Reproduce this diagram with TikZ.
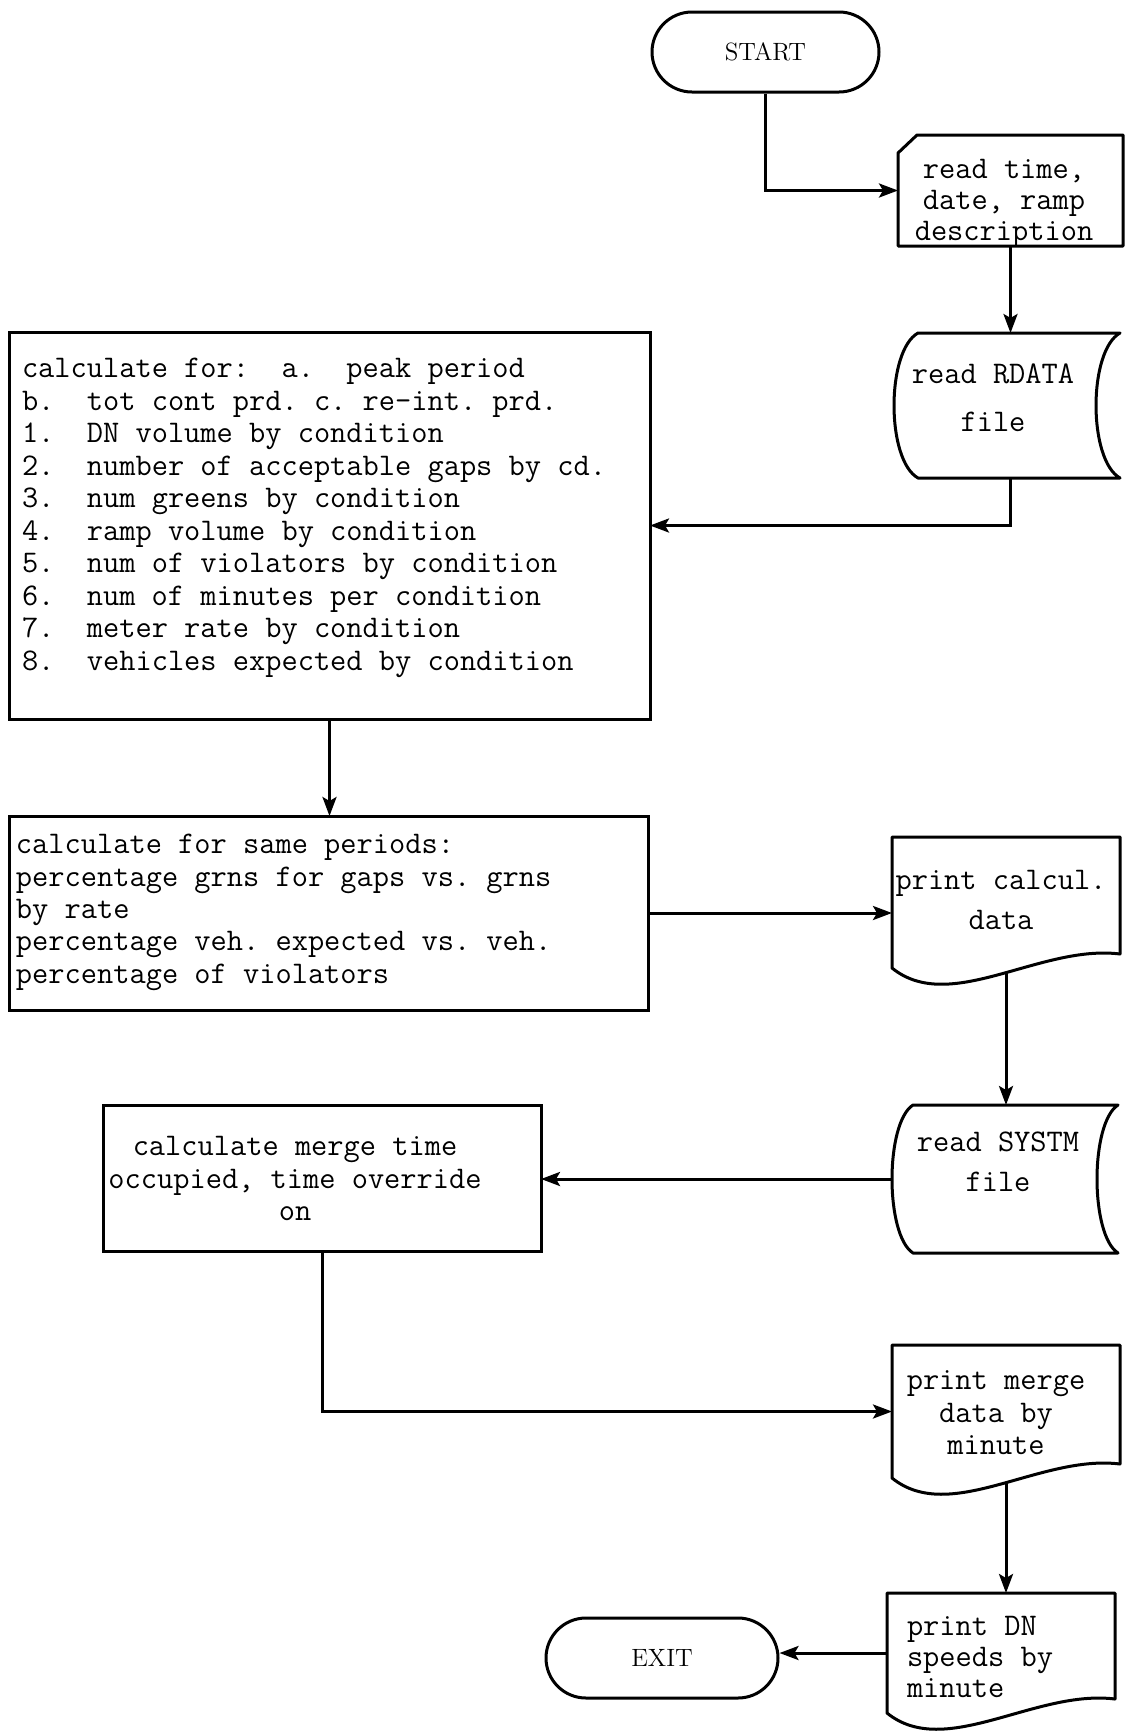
\documentclass[tikz,border=0pt]{standalone}
\usetikzlibrary{arrows.meta,calc}
% typewriter text at a given line pitch
\newcommand\twfont[1]{\ttfamily\fontsize{15.75}{#1}\selectfont\frenchspacing}
% document (printout) symbol: straight top and sides, wavy bottom
\newcommand\docoutline[1]{%
  \draw[shapeline] (#1.south west) -- (#1.north west) -- (#1.north east)
    -- ([yshift=7pt]#1.south east)
    .. controls ([shift={(-40pt,12pt)}]#1.south east) and ([shift={(29pt,-23.5pt)}]#1.south west) ..
    (#1.south west) -- cycle;}
% stored-data symbol: convex left side, concave right side
\newcommand\storeoutline[2]{%
  \draw[shapeline] (#1.north west) -- (#1.north east)
    .. controls ([shift={(-#2,-9pt)}]#1.north east) and ([shift={(-#2,9pt)}]#1.south east) .. (#1.south east)
    -- (#1.south west)
    .. controls ([shift={(-#2,9pt)}]#1.south west) and ([shift={(-#2,-9pt)}]#1.north west) .. (#1.north west)
    -- cycle;}
\begin{document}
\begin{tikzpicture}[x=0.5pt,y=-0.5pt,
  shapebox/.style={draw=none,inner sep=0pt,outer sep=0pt},
  shapeline/.style={draw,line width=1.5pt,line join=round},
  terminal/.style={draw,line width=1.5pt,rounded corners=20pt,minimum height=40pt,inner sep=0pt,
    font=\fontsize{12.5}{14}\selectfont},
  procbox/.style={draw,line width=1.5pt,inner sep=0pt,outer sep=0pt},
  txt/.style={inner sep=0pt,outer sep=0pt},
  flow/.style={-{Stealth[length=9.5pt,width=7pt,inset=2pt]},line width=1.5pt}
]
\useasboundingbox[fill=white] (0,0) rectangle (1125,1735);

% terminals
\node[terminal,minimum width=113.5pt] (start) at (765.5,52) {START};
\node[terminal,minimum width=116pt] (exit) at (662,1658) {EXIT};

% punched card input
\node[shapebox,minimum width=112.5pt,minimum height=55.5pt] (card) at (1010.5,190.5) {};
\draw[shapeline] ([yshift=-9pt]card.north west) -- ([xshift=9.5pt]card.north west) -- (card.north east)
  -- (card.south east) -- (card.south west) -- cycle;
\node[txt,anchor=north,align=center,font=\twfont{15.5pt}] (cardtxt) at (1004,157)
  {\strut read time,\\date, ramp\\description};

% stored data files
\node[shapebox,minimum width=101pt,minimum height=72.5pt] (rdata) at (1019,405.5) {};
\storeoutline{rdata}{16pt}
\node[txt,anchor=north,align=center,font=\twfont{24pt}] (rdatatxt) at (993,350)
  {\strut read RDATA\\file};

\node[shapebox,minimum width=102.5pt,minimum height=74pt] (systm) at (1015.5,1179) {};
\storeoutline{systm}{14pt}
\node[txt,anchor=north,align=center,font=\twfont{20pt}] (systmtxt) at (998,1123)
  {\strut read SYSTM\\file};

% process boxes
\node[procbox,minimum width=320.5pt,minimum height=193.5pt] (calc1) at (329.5,525.5) {};
\node[txt,anchor=north west,align=left,font=\twfont{16.25pt}] (calc1txt) at (22,355)
  {\strut calculate for:~~a.~~peak period\\
   b.~~tot cont prd. c. re-int. prd.\\
   1.~~DN volume by condition\\
   2.~~number of acceptable gaps by cd.\\
   3.~~num greens by condition\\
   4.~~ramp volume by condition\\
   5.~~num of violators by condition\\
   6.~~num of minutes per condition\\
   7.~~meter rate by condition\\
   8.~~vehicles expected by condition};

\node[procbox,minimum width=319.5pt,minimum height=97pt] (calc2) at (328.5,913) {};
\node[txt,anchor=north west,align=left,font=\twfont{16.2pt}] (calc2txt) at (16,831)
  {\strut calculate for same periods:\\
   percentage grns for gaps vs. grns\\
   by rate\\
   percentage veh. expected vs. veh.\\
   percentage of violators};

\node[procbox,minimum width=219pt,minimum height=73pt] (merge) at (322,1178) {};
\node[txt,anchor=north,align=center,font=\twfont{16.25pt}] (mergetxt) at (295,1133)
  {\strut calculate merge time\\occupied, time override\\on};

% printed outputs
\node[shapebox,minimum width=114pt,minimum height=65.5pt] (prcalc) at (1006,902.5) {};
\docoutline{prcalc}
\node[txt,anchor=north,align=center,font=\twfont{20pt}] (prcalctxt) at (1001,861)
  {\strut print calcul.\\data};

\node[shapebox,minimum width=114pt,minimum height=66.5pt] (prmerge) at (1006,1411.5) {};
\docoutline{prmerge}
\node[txt,anchor=north,align=center,font=\twfont{16.25pt}] (prmergetxt) at (996,1367)
  {\strut print merge\\data by\\minute};

\node[shapebox,minimum width=114pt,minimum height=60pt] (prdn) at (1001,1653) {};
\docoutline{prdn}
\node[txt,anchor=north west,align=left,font=\twfont{15.5pt}] (prdntxt) at (907,1614)
  {\strut print DN\\speeds by\\minute};

% connectors
\draw[flow] (start.south) |- (card.west);
\draw[flow] (card.south) -- (card.south |- rdata.north);
\draw[flow] (card.south |- rdata.south) |- (calc1.east);
\draw[flow] (calc1.south) -- (calc1.south |- calc2.north);
\draw[flow] (calc2.east) -- (calc2.east -| prcalc.west);
\draw[flow] ([yshift=-2pt]prcalc.south) -- (prcalc.south |- systm.north);
\draw[flow] ([xshift=-10.5pt]systm.west) -- (systm.west -| merge.east);
\draw[flow] (merge.south) |- (prmerge.west);
\draw[flow] ([yshift=-2pt]prmerge.south) -- (prmerge.south |- prdn.north);
\draw[flow] (prdn.west) -- (prdn.west -| exit.east);
\end{tikzpicture}
\end{document}
